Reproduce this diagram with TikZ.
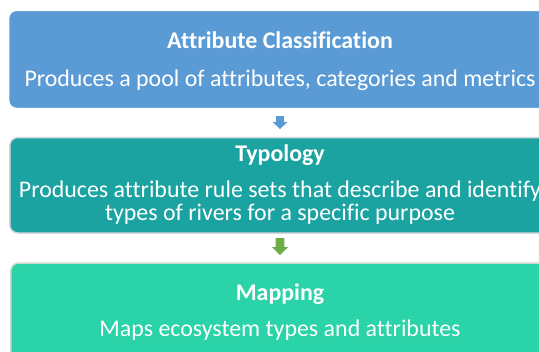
\documentclass[tikz,border=0pt]{standalone}
\usepackage{fontspec}
\setmainfont{Carlito}[Ligatures=CommonOff]
\usetikzlibrary{positioning,calc}
\definecolor{clsblue}{HTML}{5B9BD5}
\definecolor{typteal}{HTML}{1BA3A2}
\definecolor{mapgreen}{HTML}{2AD3A8}
\definecolor{arrgreen}{HTML}{70AD47}
\tikzset{
   stepbox/.style={rounded corners=8, line width=1.5},
   boxtitle/.style={anchor=base, text=white, inner sep=0, font=\bfseries\fontsize{24}{26}\selectfont},
   boxbody/.style={anchor=base, text=white, inner sep=0, align=center, font=\fontsize{24}{22.4}\selectfont},
}
\begin{document}
\begin{tikzpicture}[x=1bp,y=-1bp]
\useasboundingbox (0,0) rectangle (539,351);
\clip (0,0) rectangle (539,351);
% boxes
\draw[stepbox, draw=white, fill=clsblue] (8.6,10.3) rectangle (551.4,108.5);
\draw[stepbox, draw=blue!10!gray!30, fill=typteal] (9.8,137.5) rectangle (550.2,233);
\draw[stepbox, draw=green!15!gray!35, fill=mapgreen] (10.8,263) rectangle (549.2,390);
% texts
\node[boxtitle] (clsT) at (280,48) {Attribute Classification};
\node[boxbody]  (clsB) at (280,86) {Produces a pool of attributes, categories and metrics};
\node[boxtitle] (typT) at (280,161) {Typology};
\node[boxbody]  (typB) at (280,220) {Produces attribute rule sets that describe and identify\\ types of rivers for a specific purpose};
\node[boxtitle] (mapT) at (280,300.5) {Mapping};
\node[boxbody]  (mapB) at (280,336.5) {Maps ecosystem types and attributes};
% arrows
\coordinate (a1) at (280,116);
\coordinate (a2) at (280,238);
\fill[clsblue] (a1) ++(-3.8,0) -- ++(7.6,0) -- ++(0,6) -- ++(3.7,0) -- ++(-7.5,7) -- ++(-7.5,-7) -- ++(3.7,0) -- cycle;
\fill[arrgreen] (a2) ++(-4.3,0) -- ++(8.6,0) -- ++(0,9) -- ++(4,0) -- ++(-8.3,8) -- ++(-8.3,-8) -- ++(4,0) -- cycle;
\end{tikzpicture}
\end{document}
